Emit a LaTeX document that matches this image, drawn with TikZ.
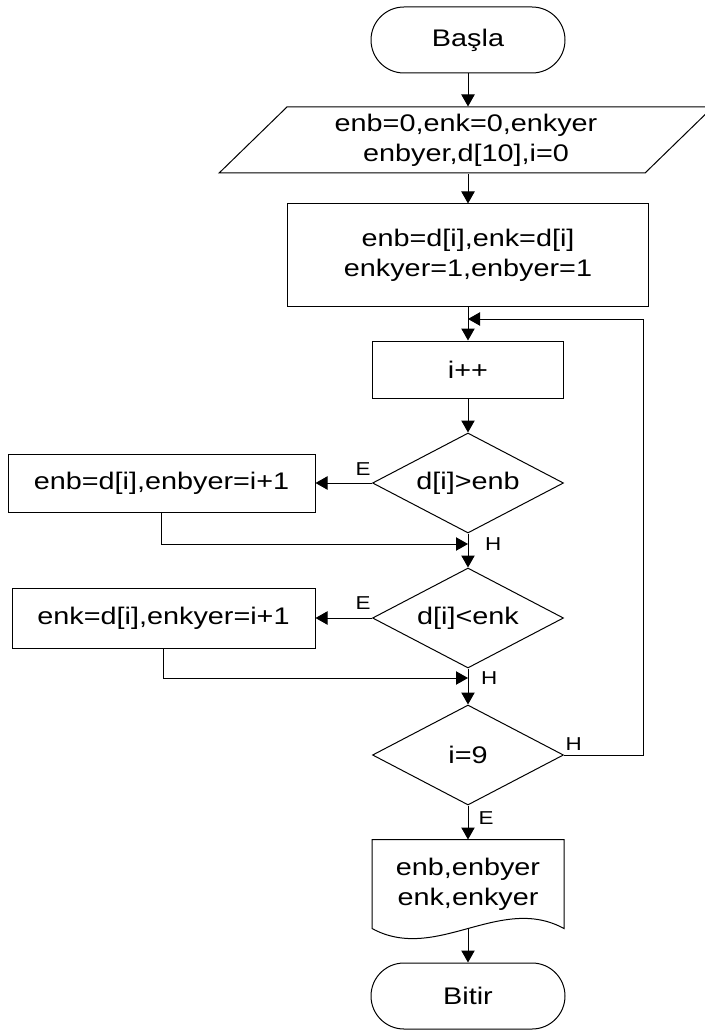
\documentclass[tikz,border=0pt]{standalone}
\usepackage{fontspec}
\setmainfont{Liberation Sans}[FakeStretch=1.2]
\usetikzlibrary{arrows.meta,shapes.geometric,positioning}

\begin{document}
\begin{tikzpicture}[x=0.75pt, y=-0.75pt, line width=0.75pt,
    font=\fontsize{18}{22.5}\selectfont,
    arrow/.style={-{Triangle[length=9pt,width=10pt]}},
    terminal/.style={draw, rectangle, rounded corners=24.75pt,
      minimum width=145.5pt, minimum height=49.5pt},
    iobox/.style={draw, trapezium, trapezium left angle=50,
      trapezium right angle=130, trapezium stretches=true,
      minimum width=371pt, minimum height=49.5pt, align=center},
    process/.style={draw, rectangle, align=center},
    decision/.style={draw, diamond, aspect=1.91, inner sep=0pt,
      minimum width=143.25pt, minimum height=75pt},
    docbox/.style={rectangle, align=center,
      minimum width=143.25pt, minimum height=66pt},
    branch/.style={font=\fontsize{14}{16}\selectfont, inner sep=0pt}
  ]
  \useasboundingbox (0,0) rectangle (704,1030);

  % Main column
  \node[terminal] (start) at (468,40) {Başla};
  \node[iobox] (init) at (466,140) {enb=0,enk=0,enkyer\\enbyer,d[10],i=0};
  \node[process, minimum width=270.75pt, minimum height=76.5pt] (set) at (468,255)
    {enb=d[i],enk=d[i]\\enkyer=1,enbyer=1};
  \node[process, minimum width=143.25pt, minimum height=42.75pt] (inc) at (468,369.5) {i++};
  \node[decision] (cmp1) at (468,483) {d[i]>enb};
  \node[decision] (cmp2) at (468,618) {d[i]<enk};
  \node[decision] (chk) at (468,755) {i=9};
  \node[docbox] (out) at (468,884) {enb,enbyer\\enk,enkyer};
  \node[terminal] (stop) at (468,996) {Bitir};

  % Side boxes
  \node[process, minimum width=230.25pt, minimum height=43.5pt] (upd1) at (161.5,483)
    {enb=d[i],enbyer=i+1};
  \node[process, minimum width=227.25pt, minimum height=45pt] (upd2) at (163.5,618)
    {enk=d[i],enkyer=i+1};

  % Document outline
  \draw (out.north west) -- (out.south west)
    .. controls +(64,35) and +(-64,-35) .. (out.south east)
    -- (out.north east) -- cycle;

  % Join points
  \coordinate (loopin) at (468,319);
  \coordinate (join1) at (468,544);
  \coordinate (join2) at (468,678);

  % Connectors
  \draw[arrow] (start.south) -- (start.south |- init.north);
  \draw[arrow] (set.north |- init.south) -- (set.north);
  \draw[arrow] (set.south) -- (inc.north);
  \draw[arrow] (inc.south) -- (cmp1.north);
  \draw[arrow] (cmp1.west) -- (upd1.east);
  \draw[arrow] (upd1.south) |- (join1);
  \draw[arrow] (cmp1.south) -- (cmp2.north);
  \draw[arrow] (cmp2.west) -- (upd2.east);
  \draw[arrow] (upd2.south) |- (join2);
  \draw[arrow] (cmp2.south) -- (chk.north);
  \draw[arrow] (chk.east) -- ++(79,0) |- (loopin);
  \draw[arrow] (chk.south) -- (out.north);
  \draw[arrow] (out.south) -- (stop.north);

  % Branch labels
  \node[branch, above left=5pt and 0.75pt] (e1) at (cmp1.west) {E};
  \node[branch, above left=6pt and 0.75pt] (e2) at (cmp2.west) {E};
  \node[branch, right=12.5pt] (h1) at (join1) {H};
  \node[branch, right=9.5pt] (h2) at (join2) {H};
  \node[branch, above right=3pt and 0.75pt] (h3) at (chk.east) {H};
  \node[branch, below right=4.5pt and 7.5pt] (e3) at (chk.south) {E};
\end{tikzpicture}
\end{document}
